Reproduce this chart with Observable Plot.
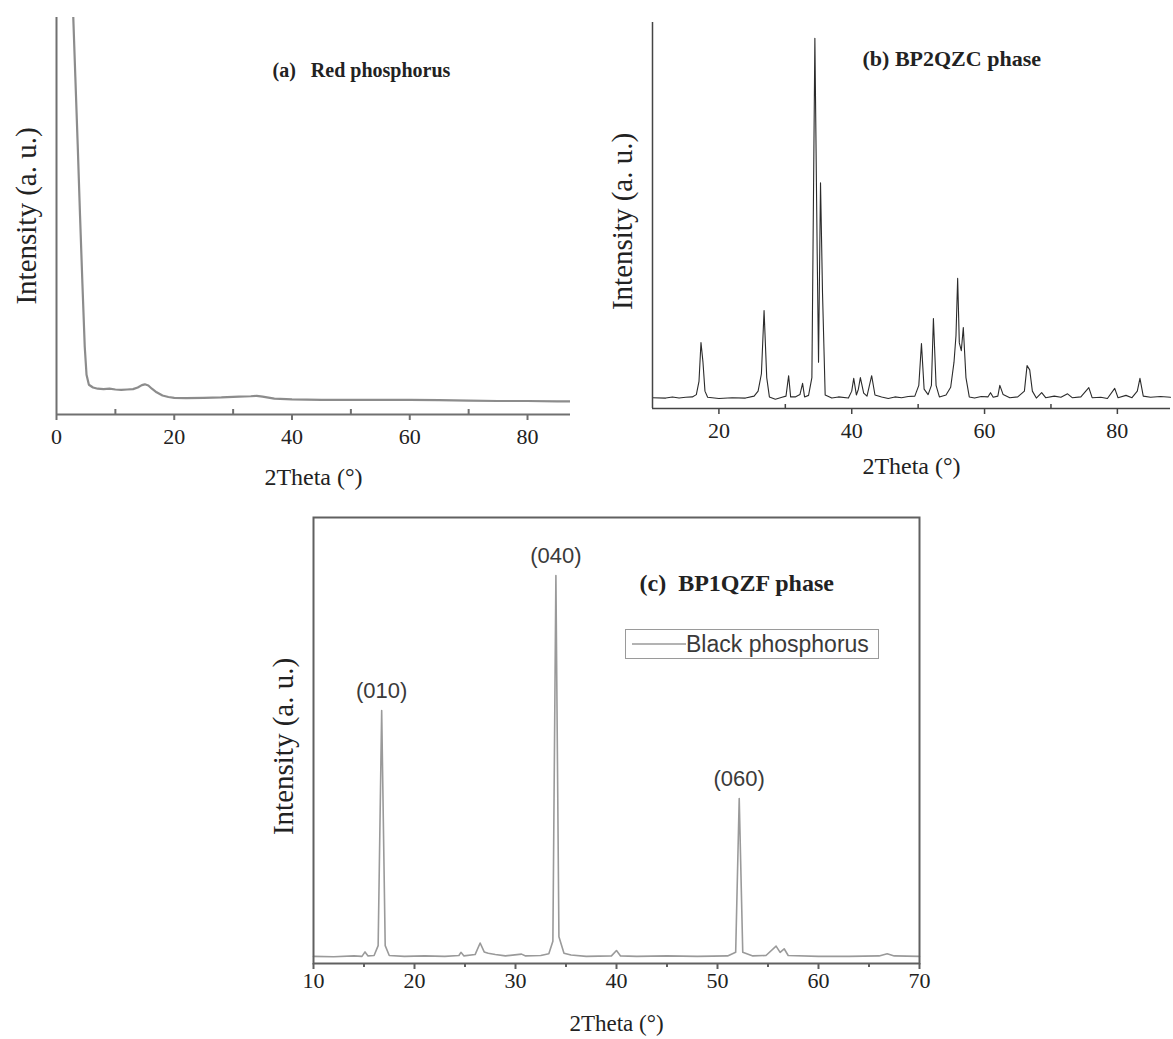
<!DOCTYPE html>
<html><head><meta charset="utf-8">
<script src="https://cdn.jsdelivr.net/npm/d3@7"></script>
<script src="https://cdn.jsdelivr.net/npm/@observablehq/plot@0.6"></script>
<style>
body{margin:0;background:#fff;}
#wrap{position:relative;width:1173px;height:1039px;overflow:hidden;background:#fff}
.panel{position:absolute}
.legend{position:absolute;box-sizing:border-box;border:1.5px solid #9a9a9a;background:#fff;display:flex;align-items:center;font-family:'Liberation Sans',Arial,sans-serif;font-size:23px;color:#3a3a3a;white-space:nowrap;overflow:hidden}
</style></head><body><div id="wrap"></div>
<script>
// ---------- data ----------
const yLabel = "Intensity (a. u.)";
const xLabel = "2Theta (°)";

// (a) Red phosphorus
const titleA = "(a)   Red phosphorus";
const redX = [2.7, 2.85, 3.2, 3.6, 4.0, 4.4, 4.8, 5.1, 5.5, 6.2, 7, 8, 9, 10, 11, 12, 13, 13.8, 14.5, 15.0, 15.6, 16.2, 17, 18, 19, 20, 22, 25, 28, 31, 33, 34, 35, 37, 40, 45, 50, 55, 60, 65, 70, 75, 80, 85, 87.3];
const redY = [130, 100, 85, 68, 50, 33, 17, 10, 7.5, 6.8, 6.5, 6.4, 6.5, 6.3, 6.2, 6.3, 6.4, 6.8, 7.4, 7.6, 7.3, 6.5, 5.6, 4.8, 4.4, 4.2, 4.1, 4.2, 4.3, 4.5, 4.6, 4.7, 4.5, 4.0, 3.8, 3.7, 3.7, 3.7, 3.7, 3.6, 3.5, 3.4, 3.4, 3.3, 3.3];
const ticksA = [0, 20, 40, 60, 80];
const minorA = [10, 30, 50, 70];

// (b) BP2QZC phase
const titleB = "(b) BP2QZC phase";
const bp2X = [10, 12, 13, 14, 15, 16, 16.6, 17.0, 17.3, 17.6, 17.9, 18.3, 20, 22, 24, 25.3, 25.9, 26.4, 26.8, 27.2, 27.6, 28.5, 29.5, 30.1, 30.5, 30.8, 31.5, 32.2, 32.6, 32.9, 33.5, 34.0, 34.45, 34.8, 35.0, 35.3, 35.6, 36.0, 37, 38, 39.5, 40.0, 40.3, 40.7, 41.0, 41.3, 41.8, 42.3, 43.0, 43.5, 44.5, 45.5, 46.5, 47.5, 48.5, 49.5, 50.1, 50.5, 50.9, 51.5, 52.0, 52.3, 52.7, 53.2, 54.2, 54.9, 55.4, 55.7, 55.95, 56.2, 56.5, 56.8, 57.2, 57.7, 58.5, 59.5, 60.5, 60.9, 61.3, 62.0, 62.3, 62.8, 63.8, 65, 66.0, 66.4, 66.8, 67.2, 67.8, 68.6, 69.2, 70.5, 71.5, 72.5, 73.2, 74.5, 75.7, 76.2, 77.5, 78.5, 79.6, 80.1, 81.3, 82.2, 83.0, 83.4, 83.9, 85, 86.5, 88];
const bp2Y = [2.8, 2.7, 3.0, 2.7, 2.9, 3.0, 3.6, 7, 17.1, 12, 4.5, 2.9, 2.6, 2.8, 2.7, 3.2, 4.5, 9, 25.4, 8, 3.0, 2.4, 2.9, 3.2, 8.5, 3.0, 3.0, 3.6, 6.5, 3.0, 3.4, 8, 95.9, 40, 12, 58.5, 30, 3.5, 2.7, 3.0, 2.7, 4.5, 7.8, 3.5, 5, 8.0, 4, 3.2, 8.5, 3.5, 3.0, 2.6, 3.0, 2.8, 3.1, 3.2, 6, 16.8, 5, 3.6, 6, 23.3, 6, 3.0, 3.5, 5.5, 12, 18.9, 33.7, 17, 15, 21.0, 8, 3.0, 2.7, 3.1, 3.0, 4.1, 2.9, 3.2, 6.0, 3.6, 2.8, 3.0, 4.5, 11.1, 10, 4.5, 2.7, 4.1, 2.8, 3.2, 2.9, 3.8, 2.8, 3.0, 5.4, 2.8, 2.9, 2.6, 5.2, 2.8, 3.4, 2.8, 4.5, 7.8, 3.2, 2.9, 3.1, 2.9];
const ticksB = [20, 40, 60, 80];
const minorB = [30, 50, 70];

// (c) BP1QZF phase
const titleC = "(c)  BP1QZF phase";
const legendLabel = "Black phosphorus";
const bp1X = [10, 12, 14, 14.8, 15.1, 15.4, 16.0, 16.4, 16.75, 17.1, 17.5, 19, 21, 23, 24.4, 24.6, 24.9, 26.0, 26.5, 26.9, 27.3, 28.0, 29, 30.6, 31, 32.5, 33.3, 33.7, 34.0, 34.3, 34.8, 35.5, 37, 39.5, 40.0, 40.4, 42, 45, 48, 51, 51.8, 52.15, 52.5, 53.5, 54.8, 55.8, 56.2, 56.6, 57.0, 60, 63, 66, 66.8, 67.5, 70];
const bp1Y = [1.6, 1.5, 1.7, 1.6, 2.6, 1.7, 1.8, 4, 56.7, 4, 1.8, 1.6, 1.7, 1.6, 1.8, 2.5, 1.7, 2.0, 4.6, 2.6, 2.3, 2.0, 1.7, 2.1, 1.7, 1.8, 2.2, 5, 87.0, 6, 2.3, 1.9, 1.6, 1.7, 2.9, 1.7, 1.6, 1.7, 1.6, 1.7, 2.5, 37.0, 2.5, 1.7, 1.8, 3.9, 2.5, 3.3, 1.8, 1.6, 1.6, 1.7, 2.2, 1.7, 1.6];
const peakLabels = ["(010)", "(040)", "(060)"];
const peakX = [16.75, 34.0, 52.15];
const peakY = [56.7, 87.0, 37.0];
const ticksC = [10, 20, 30, 40, 50, 60, 70];
const minorC = [15, 25, 35, 45, 55, 65];

// ---------- helpers ----------
const serif = "'Liberation Serif','DejaVu Serif',serif";
const sans = "'Liberation Sans','DejaVu Sans',sans-serif";
const rows = (xs, ys) => xs.map((x, i) => ({x, y: ys[i]}));
const wrap = document.getElementById("wrap");
function place(node, left, top) {
  node.classList.add("panel");
  node.style.left = left + "px";
  node.style.top = top + "px";
  wrap.appendChild(node);
}
const yLab = (dy) => Plot.text([yLabel], {frameAnchor: "left", textAnchor: "middle", lineAnchor: "middle", rotate: -90, dx: -30, dy, fontSize: 29, fill: "#222"});
const xLab = (dy, fs = 24) => Plot.text([xLabel], {frameAnchor: "bottom", textAnchor: "middle", lineAnchor: "middle", dy, fontSize: fs, fill: "#222"});

// ---------- (a) ----------
const plotA = Plot.plot({
  width: 590, height: 500,
  marginLeft: 56, marginRight: 20, marginTop: 17, marginBottom: 86,
  style: {fontFamily: serif, fontSize: "22px", color: "#222", background: "transparent", overflow: "visible"},
  x: {domain: [0, 87.3], axis: null},
  y: {domain: [0, 100], axis: null},
  marks: [
    Plot.line(rows(redX, redY), {x: "x", y: "y", stroke: "#8c8c8c", strokeWidth: 2.2, clip: true}),
    Plot.ruleY([0], {stroke: "#707070", strokeWidth: 2}),
    Plot.ruleX([0], {stroke: "#707070", strokeWidth: 2}),
    Plot.axisX({ticks: ticksA, tickSize: 6, tickPadding: 8, stroke: "#707070", strokeWidth: 2, label: null, fill: "#222", fontSize: 22}),
    Plot.axisX({ticks: minorA, tickSize: -5, tickFormat: () => "", stroke: "#707070", strokeWidth: 2, label: null}),
    xLab(63),
    yLab(0),
    Plot.text([titleA], {frameAnchor: "top-left", dx: 216, dy: 45, textAnchor: "start", fontSize: 20, fontWeight: "bold", fill: "#222"})
  ]
});
place(plotA, 0, 0);

// ---------- (b) ----------
const plotB = Plot.plot({
  width: 583, height: 500,
  marginLeft: 62, marginRight: 3, marginTop: 22, marginBottom: 92,
  style: {fontFamily: serif, fontSize: "22px", color: "#222", background: "transparent", overflow: "visible"},
  x: {domain: [10, 88], axis: null},
  y: {domain: [0, 100], axis: null},
  marks: [
    Plot.line(rows(bp2X, bp2Y), {x: "x", y: "y", stroke: "#2b2b2b", strokeWidth: 1.1}),
    Plot.ruleY([0], {stroke: "#444", strokeWidth: 1.5}),
    Plot.ruleX([10], {stroke: "#444", strokeWidth: 1.5}),
    Plot.axisX({ticks: ticksB, tickSize: 6, tickPadding: 8, stroke: "#444", strokeWidth: 1.5, label: null, fill: "#222", fontSize: 22}),
    Plot.axisX({ticks: minorB, tickSize: -4, tickFormat: () => "", stroke: "#444", strokeWidth: 1.5, label: null}),
    xLab(58),
    yLab(6),
    Plot.text([titleB], {frameAnchor: "top-left", dx: 210, dy: 28, textAnchor: "start", fontSize: 22, fontWeight: "bold", fill: "#222"})
  ]
});
place(plotB, 590, 0);

// ---------- (c) ----------
const plotC = Plot.plot({
  width: 700, height: 539,
  marginLeft: 63, marginRight: 31, marginTop: 17, marginBottom: 76,
  style: {fontFamily: serif, fontSize: "22px", color: "#222", background: "transparent", overflow: "visible"},
  x: {domain: [10, 70], axis: null},
  y: {domain: [0, 100], axis: null},
  marks: [
    Plot.line(rows(bp1X, bp1Y), {x: "x", y: "y", stroke: "#9a9a9a", strokeWidth: 1.6}),
    Plot.frame({stroke: "#606060", strokeWidth: 2}),
    Plot.axisX({ticks: ticksC, tickSize: 6, tickPadding: 3, stroke: "#606060", strokeWidth: 2, label: null, fill: "#222", fontSize: 22}),
    Plot.axisX({ticks: minorC, tickSize: 4, tickFormat: () => "", stroke: "#606060", strokeWidth: 2, label: null}),
    Plot.text(peakLabels, {x: (d, i) => peakX[i], y: (d, i) => peakY[i], dy: -20, fontFamily: sans, fontSize: 22, fill: "#3a3a3a"}),
    xLab(60, 23),
    yLab(6),
    Plot.text([titleC], {frameAnchor: "top-left", dx: 326, dy: 56, textAnchor: "start", fontSize: 24, fontWeight: "bold", fill: "#222"})
  ]
});
place(plotC, 250, 500);

// legend for (c)
const lg = document.createElement("div");
lg.className = "legend";
lg.style.left = "625px"; lg.style.top = "629px"; lg.style.width = "254px"; lg.style.height = "30px";
lg.innerHTML = `<svg width="60" height="20" style="flex:none"><line x1="6" y1="10" x2="60" y2="10" stroke="#9a9a9a" stroke-width="1.6"/></svg><span>${legendLabel}</span>`;
wrap.appendChild(lg);
</script></body></html>
